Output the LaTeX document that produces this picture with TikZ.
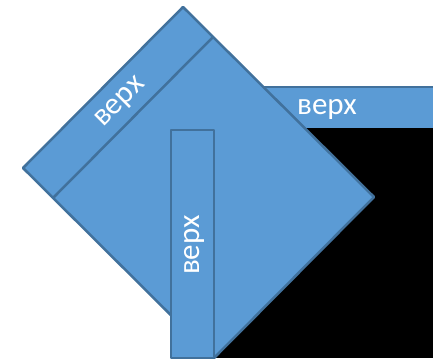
\documentclass[tikz,border=0pt]{standalone}
\usepackage{fontspec}
\setmainfont{Carlito}
\definecolor{fillblue}{HTML}{5B9BD5}
\definecolor{lineblue}{HTML}{41719C}

\begin{document}
\begin{tikzpicture}[x=1pt,y=-1pt]
\tikzstyle{every node}+=[inner sep=0pt,text=white,font=\fontsize{31}{32}\selectfont]
\tikzstyle{panel}=[fill=fillblue,draw=lineblue,line width=2.5pt,line join=round]
\useasboundingbox (0,0) rectangle (433,360);
\fill [black] (214,128) rectangle (433,358);
\fill [fillblue] (230,87) rectangle (433,128);
\draw [lineblue,line width=2.5pt] (230,87) -- (433,87);
\draw (327,109) node (topH) {верх};
\draw [panel] (183,7) -- (374,197) -- (214,358) -- (23,168) -- cycle;
\draw [lineblue,line width=2.5pt] (213,37) -- (53,198);
\draw (121,103) node [rotate=45] (topD) {верх};
\draw [panel] (171,130) rectangle (214,358);
\draw (194,245) node [rotate=90] (topV) {верх};
\end{tikzpicture}
\end{document}
